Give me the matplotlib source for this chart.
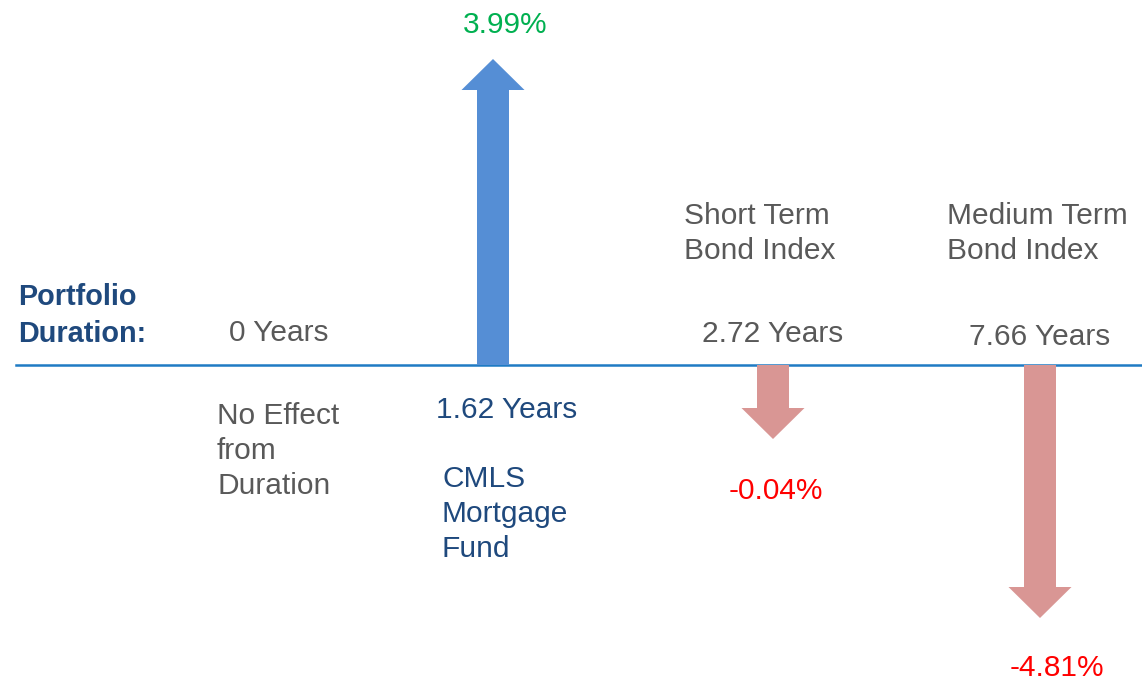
import matplotlib.pyplot as plt
from matplotlib.patches import FancyArrow

plt.rcParams['font.family'] = ['Liberation Sans', 'DejaVu Sans']

# data
names = ['No Effect\nfrom\nDuration', 'CMLS\nMortgage\nFund',
         'Short Term\nBond Index', 'Medium Term\nBond Index']
durations = [0, 1.62, 2.72, 7.66]
returns = [None, 3.99, -0.04, -4.81]
# arrow extents as drawn (not proportional to the return)
arrow_len = [0, 306, -74, -253]

navy = '#1F497D'
gray = '#595959'
blue = '#558ED5'
pink = '#D99694'
red = '#FF0000'
green = '#00B050'

fig = plt.figure(figsize=(11.42, 6.81), dpi=100)
ax = fig.add_axes([0, 0, 1, 1])
ax.set_xlim(0, 1142)
ax.set_ylim(-316, 365)
ax.axis('off')


def py(p):
    # picture row -> data y (baseline at row 365), text sits a bit low
    return 365 - p - 3


def lines(x, y0, txt, color, step=35, **kw):
    for k, s in enumerate(txt.split('\n')):
        ax.text(x, py(y0 + k * step), s, fontsize=kw.pop('fs', fs), color=color,
                va='center', **kw)


# baseline
ax.plot([16, 1142], [0, 0], color='#1F7BC4', lw=1.8, zorder=1)

# arrows
arrow_x = [None, 493, 773, 1040]
for i in range(1, 4):
    ax.add_patch(FancyArrow(arrow_x[i], 0, 0, arrow_len[i], width=32, head_width=63,
                            head_length=31, length_includes_head=True,
                            color=blue if returns[i] > 0 else pink,
                            lw=0, zorder=2))

fs = 21.5
# left label
ax.text(18, py(294), 'Portfolio', fontsize=20.8, weight='bold', color=navy, va='center')
ax.text(18, py(331), 'Duration:', fontsize=20.8, weight='bold', color=navy, va='center')

# durations
ax.text(229, py(330), f'{durations[0]:g} Years', fontsize=fs, color=gray, va='center')
ax.text(436, py(407), f'{durations[1]:.2f} Years', fontsize=fs, color=navy, va='center')
ax.text(702, py(331), f'{durations[2]:.2f} Years', fontsize=fs, color=gray, va='center')
ax.text(969, py(334), f'{durations[3]:.2f} Years', fontsize=fs, color=gray, va='center')

# names
lines(217, 413, names[0], gray)
lines(442, 476, names[1], navy)
lines(684, 213, names[2], gray)
lines(947, 213, names[3], gray)

# returns
ax.text(505, py(22), f'{returns[1]:.2f}%', fontsize=fs, color=green, va='center', ha='center')
ax.text(776, py(488), f'{returns[2]:.2f}%', fontsize=fs, color=red, va='center', ha='center')
ax.text(1057, py(665), f'{returns[3]:.2f}%', fontsize=fs, color=red, va='center', ha='center')

fig.savefig('out.png', dpi=100)
